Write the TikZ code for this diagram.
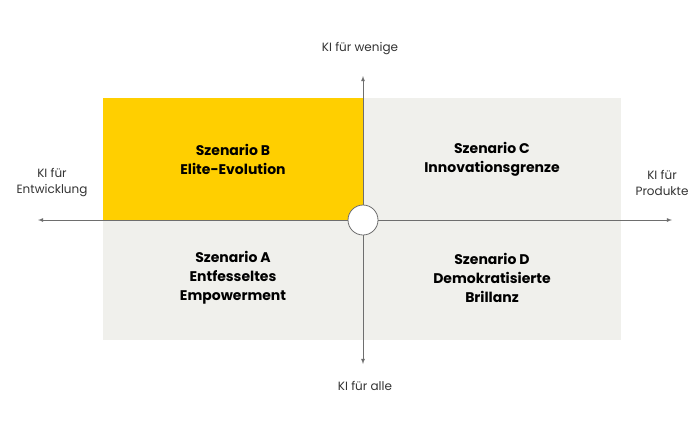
\documentclass[tikz,border=0pt]{standalone}
\usepackage{fontspec}
\setmainfont{Poppins}
\usetikzlibrary{positioning}
\definecolor{sunflower}{RGB}{255, 207, 0}
\definecolor{paper}{RGB}{240, 240, 236}
\definecolor{axisgray}{RGB}{110, 110, 110}
\tikzset{
  quad/.style={align=center, font=\fontsize{14}{19}\selectfont\bfseries, text=black},
  axislabel/.style={align=center, font=\fontsize{12}{16}\selectfont, text=black!80},
  axisline/.style={draw=axisgray, thick, -latex}
}
\begin{document}
\begin{tikzpicture}[x=1pt, y=-1pt]
        \useasboundingbox (0,0) rectangle (700,437);
        \fill[sunflower] (103, 98) rectangle (363,220);
        \fill[paper]     (363, 98) rectangle (621,220);
        \fill[paper]     (103,220) rectangle (363,340);
        \fill[paper]     (363,220) rectangle (621,340);
        % axes
        \coordinate (west)  at ( 38,220);
        \coordinate (east)  at (672,220);
        \coordinate (north) at (363, 76);
        \coordinate (south) at (363,364);
        \node[circle, draw=axisgray, thick, fill=white, minimum size=30pt, inner sep=0pt] (hub) at (363,220) {};
        \draw[axisline] (hub) -- (west);
        \draw[axisline] (hub) -- (east);
        \draw[axisline] (hub) -- (north);
        \draw[axisline] (hub) -- (south);
        % labels
        \node[quad] (szB) at (233,159) {Szenario B\\Elite-Evolution};
        \node[quad] (szC) at (492,159) {Szenario C\\Innovationsgrenze};
        \node[quad] (szA) at (233,278) {Szenario A\\Entfesseltes\\Empowerment};
        \node[quad] (szD) at (492,278) {Szenario D\\Demokratisierte\\Brillanz};
        \node[axislabel] (few)  at (360, 49) {KI für wenige};
        \node[axislabel] (all)  at (365,386) {KI für alle};
        \node[axislabel] (dev)  at ( 52,183) {KI für\\Entwicklung};
        \node[axislabel] (prod) at (662,183) {KI für\\Produkte};
\end{tikzpicture}
\end{document}
